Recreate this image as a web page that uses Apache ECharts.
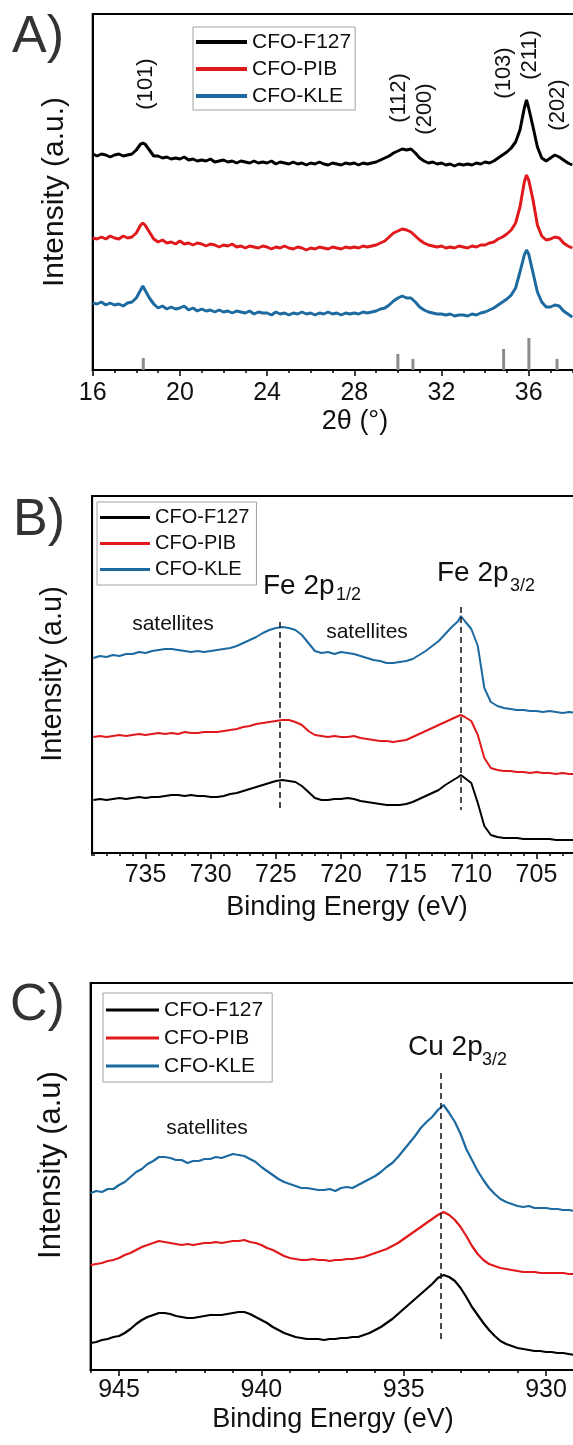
<!DOCTYPE html>
<html>
<head>
<meta charset="utf-8">
<title>CFO XRD / XPS</title>
<script src="https://cdn.jsdelivr.net/npm/echarts@6.0.0/dist/echarts.min.js"></script>
<style>
  html, body { margin: 0; padding: 0; background: #fff; }
  #main { width: 573px; height: 1445px; }
</style>
</head>
<body>
<div id="main"></div>
<script>
// ---- data ----
var names = ['CFO-F127', 'CFO-PIB', 'CFO-KLE'];
var colors = ['#000000', '#e0191c', '#1c6aa0'];

// A) XRD, 2theta (deg), intensities offset per sample (a.u.)
var xrdTheta = [
  16.0,16.2,16.4,16.6,16.8,17.0,17.2,17.4,17.6,17.8,
  18.0,18.2,18.3,18.4,18.6,18.8,19.0,19.2,19.4,19.6,
  19.8,20.0,20.2,20.4,20.6,20.8,21.0,21.2,21.4,21.6,
  21.8,22.0,22.2,22.4,22.6,22.8,23.0,23.2,23.4,23.6,
  23.8,24.0,24.2,24.4,24.6,24.8,25.0,25.2,25.4,25.6,
  25.8,26.0,26.2,26.4,26.6,26.8,27.0,27.2,27.4,27.6,
  27.8,28.0,28.2,28.4,28.6,28.8,29.0,29.2,29.4,29.6,
  29.8,30.0,30.2,30.4,30.6,30.8,31.0,31.2,31.4,31.6,
  31.8,32.0,32.2,32.4,32.6,32.8,33.0,33.2,33.4,33.6,
  33.8,34.0,34.2,34.4,34.6,34.8,35.0,35.2,35.4,35.6,
  35.8,35.9,36.0,36.2,36.4,36.6,36.8,37.0,37.2,37.4,
  37.6,37.8,38.0];
var xrdF127 = [
  216,214,216,215,213,215,216,214,215,216,
  220,226,227,226,220,214,214,212,213,211,
  212,211,213,210,211,209,210,209,211,208,
  209,210,208,209,207,209,208,207,209,207,
  208,207,209,206,208,207,206,208,206,207,
  205,207,206,208,206,205,207,206,205,207,
  206,207,205,207,206,207,208,210,212,214,
  217,219,221,220,221,217,212,209,207,208,
  206,207,205,206,204,206,205,206,205,207,
  206,208,207,209,212,215,218,222,228,240,
  262,270,262,243,223,212,209,212,215,213,
  210,207,205];
var xrdPIB = [
  132,131,133,131,134,132,131,134,132,133,
  137,145,147,145,138,131,128,130,127,128,
  126,129,126,127,125,127,126,124,126,125,
  123,125,124,126,123,124,122,124,123,122,
  124,123,121,123,122,124,122,121,123,122,
  120,122,121,123,122,121,123,122,121,123,
  122,123,122,124,123,124,125,127,129,133,
  137,139,141,140,138,134,130,127,125,124,
  123,124,122,123,122,124,123,122,124,123,
  125,125,127,128,131,133,136,140,147,163,
  188,195,190,170,145,134,130,131,133,132,
  127,124,122];
var xrdKLE = [
  67,66,68,65,67,65,66,64,67,68,
  72,80,84,80,72,66,62,64,61,63,
  61,62,64,60,62,59,61,59,60,58,
  60,58,59,57,59,58,57,59,56,58,
  57,57,55,58,56,57,55,57,56,58,
  56,57,55,57,56,58,56,57,55,57,
  56,57,56,58,57,58,59,61,62,65,
  69,72,74,72,72,68,63,60,58,57,
  56,56,55,56,54,55,55,54,56,55,
  57,58,60,62,65,68,71,75,82,98,
  115,120,116,97,78,68,63,63,65,64,
  59,56,53];
// reference pattern sticks
var refTheta = [18.32, 30.0, 30.69, 34.85, 36.01, 37.3];
var refHeight = [12, 16, 11, 21, 32, 11];
var hklLabels = ['(101)', '(112)', '(200)', '(103)', '(211)', '(202)'];

// B) Fe 2p XPS, binding energy (eV)
var feBE = [
  739.0,738.5,738.0,737.5,737.0,736.5,736.0,735.5,735.0,734.5,
  734.0,733.5,733.0,732.5,732.0,731.5,731.0,730.5,730.0,729.5,
  729.0,728.5,728.0,727.5,727.0,726.5,726.0,725.5,725.0,724.5,
  724.0,723.5,723.0,722.5,722.0,721.5,721.0,720.5,720.0,719.5,
  719.0,718.5,718.0,717.5,717.0,716.5,716.0,715.5,715.0,714.5,
  714.0,713.5,713.0,712.5,712.0,711.5,711.0,710.8,710.5,710.0,
  709.5,709.0,708.5,708.0,707.5,707.0,706.5,706.0,705.5,705.0,
  704.5,704.0,703.5,703.0,702.5,702.0];
var feF127 = [
  53,54,53,54,55,54,55,56,55,56,
  56,57,58,58,57,58,57,57,56,56,
  57,59,60,62,64,66,68,70,72,73,
  72,71,67,61,55,53,53,54,54,55,
  54,52,51,50,49,48,48,48,49,51,
  54,57,60,63,68,72,76,78,75,70,
  50,27,18,16,15,15,15,14,14,14,
  14,14,13,13,13,13];
var fePIB = [
  116,117,116,117,118,117,118,119,118,119,
  120,119,120,119,121,120,120,121,121,121,
  122,123,124,126,127,129,130,131,132,133,
  133,131,128,122,118,117,116,117,116,116,
  117,115,114,113,112,112,111,112,113,116,
  119,122,125,128,131,134,137,138,136,132,
  118,95,85,83,82,82,81,81,80,81,
  80,80,79,80,79,79];
var feKLE = [
  195,197,196,198,197,199,199,201,200,202,
  203,204,204,203,202,201,202,201,202,203,
  204,205,207,210,213,216,220,223,225,226,
  225,223,218,210,202,200,201,199,201,200,
  199,197,195,193,192,190,190,191,192,194,
  198,202,207,212,219,226,232,237,232,224,
  207,165,151,147,145,144,143,143,142,142,
  141,142,141,140,141,140];
// dashed guides: [energy, from, to]
var feGuides = [[724.7, 231, 41], [710.8, 246, 43]];

// C) Cu 2p XPS
var cuBE = [
  946.0,945.8,945.6,945.4,945.2,945.0,944.8,944.6,944.4,944.2,
  944.0,943.8,943.6,943.4,943.2,943.0,942.8,942.6,942.4,942.2,
  942.0,941.8,941.6,941.4,941.2,941.0,940.8,940.6,940.4,940.2,
  940.0,939.8,939.6,939.4,939.2,939.0,938.8,938.6,938.4,938.2,
  938.0,937.8,937.6,937.4,937.2,937.0,936.8,936.6,936.4,936.2,
  936.0,935.8,935.6,935.4,935.2,935.0,934.8,934.6,934.4,934.2,
  934.0,933.8,933.6,933.4,933.2,933.0,932.8,932.6,932.4,932.2,
  932.0,931.8,931.6,931.4,931.2,931.0,930.8,930.6,930.4,930.2,
  930.0,929.8,929.6,929.4,929.2,929.0];
var cuF127 = [
  27,28,30,31,33,34,37,41,46,50,
  53,55,57,57,56,54,53,52,52,53,
  54,55,55,55,56,57,58,58,56,53,
  50,47,43,40,37,35,33,32,31,31,
  31,30,31,31,32,32,33,33,35,37,
  40,43,47,51,56,61,66,71,76,81,
  86,92,95,93,89,82,73,63,55,47,
  40,34,29,26,24,22,21,20,19,19,
  18,18,17,17,16,15];
var cuPIB = [
  105,106,107,109,110,112,115,117,120,123,
  125,127,129,128,127,126,125,126,125,126,
  127,127,128,127,128,129,129,130,128,127,
  125,122,120,117,114,112,111,110,110,111,
  110,110,109,110,110,111,111,112,113,115,
  117,119,121,124,127,131,135,139,143,147,
  151,155,158,155,150,143,134,124,116,110,
  106,104,102,101,100,99,98,98,98,97,
  97,97,97,97,96,96];
var cuKLE = [
  177,179,178,181,181,185,188,193,198,201,
  206,209,213,213,212,210,210,207,209,209,
  211,211,213,212,214,216,215,214,211,208,
  203,199,195,191,188,186,184,182,182,181,
  180,180,181,179,182,183,182,185,188,191,
  194,198,203,207,213,220,227,234,242,248,
  253,260,265,257,248,236,221,210,199,190,
  182,176,171,168,166,164,163,164,162,162,
  162,161,161,160,160,159];
var cuGuides = [[933.7, 297, 27]];

// ---- chart ----
var FONT = '"Liberation Sans", Arial, sans-serif';
var TXT = '#111';

function pairs(xs, ys) {
  return xs.map(function (x, i) { return [x, ys[i]]; });
}

function lineSeries(k, xi, yi, xs, ys, width) {
  return {
    name: names[k], type: 'line', xAxisIndex: xi, yAxisIndex: yi,
    data: pairs(xs, ys), showSymbol: false, symbol: 'none',
    lineStyle: { color: colors[k], width: width },
    itemStyle: { color: colors[k] },
    silent: true, animation: false, z: 3
  };
}

function guideLines(guides) {
  return {
    silent: true, animation: false, symbol: ['none', 'none'],
    label: { show: false },
    lineStyle: { color: '#111', type: [6, 4], width: 1.5 },
    data: guides.map(function (g) { return [{ coord: [g[0], g[1]] }, { coord: [g[0], g[2]] }]; })
  };
}

// major axis (labels) + minor axis (1-unit ticks only) per grid
function majorAxis(gi, min, max, interval, inverse, margin) {
  return {
    gridIndex: gi, type: 'value', position: 'bottom', min: min, max: max, interval: interval, inverse: inverse,
    axisLine: { lineStyle: { color: '#000', width: 2 } },
    axisTick: { length: 6, lineStyle: { color: '#000', width: 1.5 } },
    axisLabel: { fontSize: 25, color: TXT, fontFamily: FONT, margin: margin, showMaxLabel: false },
    splitLine: { show: false }
  };
}
function minorAxis(gi, min, max, inverse) {
  return {
    gridIndex: gi, type: 'value', position: 'bottom', offset: 0, min: min, max: max, interval: 1, inverse: inverse,
    axisLine: { show: false },
    axisTick: { length: 3, lineStyle: { color: '#000', width: 1.5 } },
    axisLabel: { show: false },
    splitLine: { show: false }
  };
}
function yAxis(gi, max) {
  return {
    gridIndex: gi, type: 'value', min: 0, max: max,
    axisLine: { show: true, lineStyle: { color: '#000', width: 2 } },
    axisTick: { show: false }, axisLabel: { show: false }, splitLine: { show: false }
  };
}
function grid(left, top, width, height) {
  return {
    left: left, top: top, width: width, height: height,
    outerBoundsMode: 'none', containLabel: false,
    show: true, borderColor: '#000', borderWidth: 2
  };
}
function legend(left, top, size, lh, gap, w, h, pad) {
  return {
    left: left, top: top, orient: 'vertical', data: names, icon: 'rect',
    itemWidth: w, itemHeight: h, itemGap: gap, padding: pad, selectedMode: false,
    borderColor: '#a0a0a0', borderWidth: 1,
    textStyle: { fontSize: size, lineHeight: lh, color: TXT, fontFamily: FONT }
  };
}
function txt(x, y, text, size, align, rot, fill) {
  return {
    type: 'text', x: x, y: y, rotation: rot || 0, silent: true,
    style: {
      text: text, fill: fill || TXT, font: size + 'px ' + FONT,
      textAlign: align || 'center', textVerticalAlign: 'middle',
      align: align || 'center', verticalAlign: 'middle'
    }
  };
}

var R = Math.PI / 2;
var hklPos = [[146, 84], [399, 98], [425, 109], [504, 73], [530, 55], [558, 105]];
var graphics = [
  txt(12, 38, 'A)', 52, 'left', 0, '#333'),
  txt(13, 521, 'B)', 52, 'left', 0, '#333'),
  txt(10, 1006, 'C)', 52, 'left', 0, '#333'),
  txt(55, 192, 'Intensity (a.u.)', 30, 'center', R),
  txt(53, 674, 'Intensity (a.u)', 29, 'center', R),
  txt(51, 1165, 'Intensity (a.u)', 31, 'center', R),
  txt(355, 422, '2θ (°)', 27),
  txt(347, 908, 'Binding Energy (eV)', 27),
  txt(333, 1420, 'Binding Energy (eV)', 27),
  txt(173, 624, 'satellites', 21),
  txt(367, 632, 'satellites', 21),
  txt(207, 1128, 'satellites', 21),
  txt(263, 586, 'Fe 2p', 28, 'left'),
  txt(336, 595, '1/2', 18, 'left'),
  txt(437, 573, 'Fe 2p', 28, 'left'),
  txt(510, 586, '3/2', 18, 'left'),
  txt(408, 1047, 'Cu 2p', 28, 'left'),
  txt(482, 1060, '3/2', 18, 'left')
];
hklLabels.forEach(function (t, i) {
  graphics.push(txt(hklPos[i][0], hklPos[i][1], t, 22, 'center', R));
});

var chart = echarts.init(document.getElementById('main'), null, { renderer: 'canvas' });

var seriesB = [
  lineSeries(0, 2, 1, feBE, feF127, 2),
  lineSeries(1, 2, 1, feBE, fePIB, 2),
  lineSeries(2, 2, 1, feBE, feKLE, 2)
];
seriesB[0].markLine = guideLines(feGuides);
var seriesC = [
  lineSeries(0, 4, 2, cuBE, cuF127, 2.2),
  lineSeries(1, 4, 2, cuBE, cuPIB, 2.2),
  lineSeries(2, 4, 2, cuBE, cuKLE, 2.2)
];
seriesC[0].markLine = guideLines(cuGuides);

chart.setOption({
  animation: false,
  backgroundColor: '#fff',
  textStyle: { fontFamily: FONT },
  grid: [
    grid(92.7, 14, 488.3, 356),
    grid(92.1, 496, 509.5, 357),
    grid(90.6, 983, 597.7, 387)
  ],
  xAxis: [
    majorAxis(0, 16, 38.4, 4, false, 11),
    minorAxis(0, 16, 38.4, false),
    majorAxis(1, 700, 739.1, 5, true, 10),
    minorAxis(1, 700, 739.1, true),
    majorAxis(2, 925, 946, 5, true, 8),
    minorAxis(2, 925, 946, true)
  ],
  yAxis: [yAxis(0, 356), yAxis(1, 357), yAxis(2, 387)],
  legend: [
    legend(193, 27, 21, 24, 3, 51, 4, [3, 4, 2, 3]),
    legend(97, 502, 20, 23, 3, 50, 3, [4, 7, 4, 3]),
    legend(103, 993, 21, 24, 4, 53, 3, [5, 9, 4, 3])
  ],
  graphic: graphics,
  series: [
    lineSeries(0, 0, 0, xrdTheta, xrdF127, 3),
    lineSeries(1, 0, 0, xrdTheta, xrdPIB, 3),
    lineSeries(2, 0, 0, xrdTheta, xrdKLE, 3),
    {
      name: 'reference', type: 'bar', xAxisIndex: 0, yAxisIndex: 0,
      data: pairs(refTheta, refHeight), barWidth: 3,
      itemStyle: { color: '#8c8c8c' }, silent: true, animation: false
    }
  ].concat(seriesB, seriesC)
});
</script>
</body>
</html>
